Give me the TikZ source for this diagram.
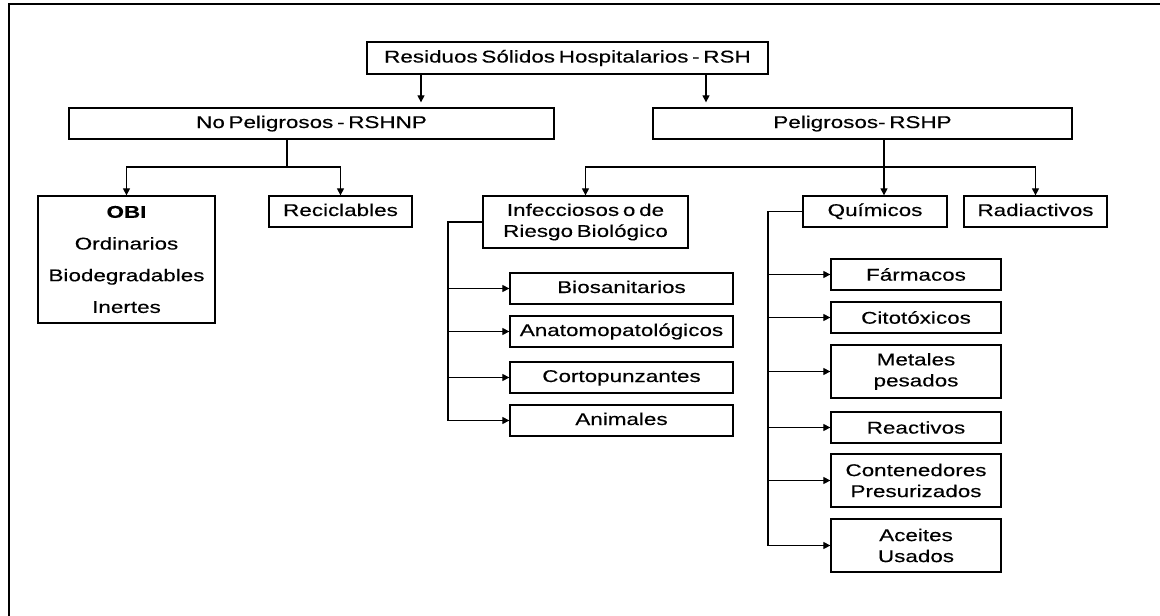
\documentclass[tikz,border=0pt]{standalone}
\usepackage{fontspec}
\setmainfont[FakeStretch=1.32,WordSpace=0.6,FakeBold=0.35]{Liberation Sans}
\usepackage{tikz}
\usetikzlibrary{arrows.meta}

\tikzset{
  caja/.style={draw,line width=1.3pt,inner sep=0pt,align=center,
    font=\fontsize{17}{21}\selectfont},
  uno/.style={caja,text height=12.5pt,text depth=3.5pt},
  linea/.style={line width=1.2pt},
  flecha/.style={linea,-{Triangle[length=7pt,width=7pt]}}
}

\begin{document}
\begin{tikzpicture}[x=1pt,y=-1pt]
\useasboundingbox (0,0) rectangle (1160,616);
\draw[line width=2.2pt] (1160,4) -- (9,4) -- (9,616);

% first levels
\node[uno,minimum width=401pt,minimum height=32pt] (rsh) at (567.5,58) {Residuos Sólidos Hospitalarios - RSH};
\node[uno,minimum width=485pt,minimum height=31pt] (np) at (311.5,123.5) {No Peligrosos - RSHNP};
\node[uno,minimum width=419pt,minimum height=31pt] (p) at (862.5,123.5) {Peligrosos- RSHP};

\node[caja,minimum width=177pt,minimum height=127pt,font=\fontsize{17}{31.7}\selectfont] (obi) at (126.5,259.5)
  {\textbf{OBI}\\Ordinarios\\Biodegradables\\Inertes};
\node[uno,minimum width=143pt,minimum height=31pt] (recic) at (340.5,211.5) {Reciclables};
\node[caja,minimum width=205pt,minimum height=52pt] (inf) at (585.5,222) {Infecciosos o de\\Riesgo Biológico};
\node[uno,minimum width=144pt,minimum height=31pt] (quim) at (875,211.5) {Químicos};
\node[uno,minimum width=143pt,minimum height=31pt] (radio) at (1035.5,211.5) {Radiactivos};

% infecciosos
\foreach \n/\y/\t in {biosan/288.5/Biosanitarios,anat/331.5/Anatomopatológicos,
  corto/377.5/Cortopunzantes,anim/420.5/Animales}{
  \node[uno,minimum width=223pt,minimum height=31pt] (\n) at (621.5,\y) {\t};
}

% quimicos
\foreach \n/\y/\h/\t in {farm/274.5/31/Fármacos,cito/317.5/31/Citotóxicos,
  metal/371.5/53/{Metales\\pesados},react/427.5/31/Reactivos,
  cont/480.5/53/{Contenedores\\Presurizados},aceit/545.5/53/{Aceites\\Usados}}{
  \node[caja,minimum width=170pt,minimum height=\h pt] (\n) at (916,\y) {\t};
}

\draw[flecha,shorten >=5pt] (421,0 |- rsh.south) -- (421,0 |- np.north);
\draw[flecha,shorten >=5pt] (706,0 |- rsh.south) -- (706,0 |- p.north);

\coordinate (npj) at (287,167);
\draw[linea] (npj |- np.south) -- (npj);
\draw[flecha] (npj) -| (obi.north);
\draw[flecha] (npj) -| (recic.north);

\coordinate (pj) at (884,167);
\draw[linea] (pj |- p.south) -- (pj);
\draw[flecha] (pj) -| (inf.north);
\draw[flecha] (pj) -- (pj |- quim.north);
\draw[flecha] (pj) -| (radio.north);

\coordinate (it) at (448,0);
\draw[linea] (inf.west) -| (it |- anim.west);
\foreach \n in {biosan,anat,corto,anim}
  \draw[flecha] (it |- \n.west) -- (\n.west);

\coordinate (qt) at (768,0);
\draw[linea] (quim.west) -| (qt |- aceit.west);
\foreach \n in {farm,cito,metal,react,cont,aceit}
  \draw[flecha] (qt |- \n.west) -- (\n.west);

\end{tikzpicture}
\end{document}
